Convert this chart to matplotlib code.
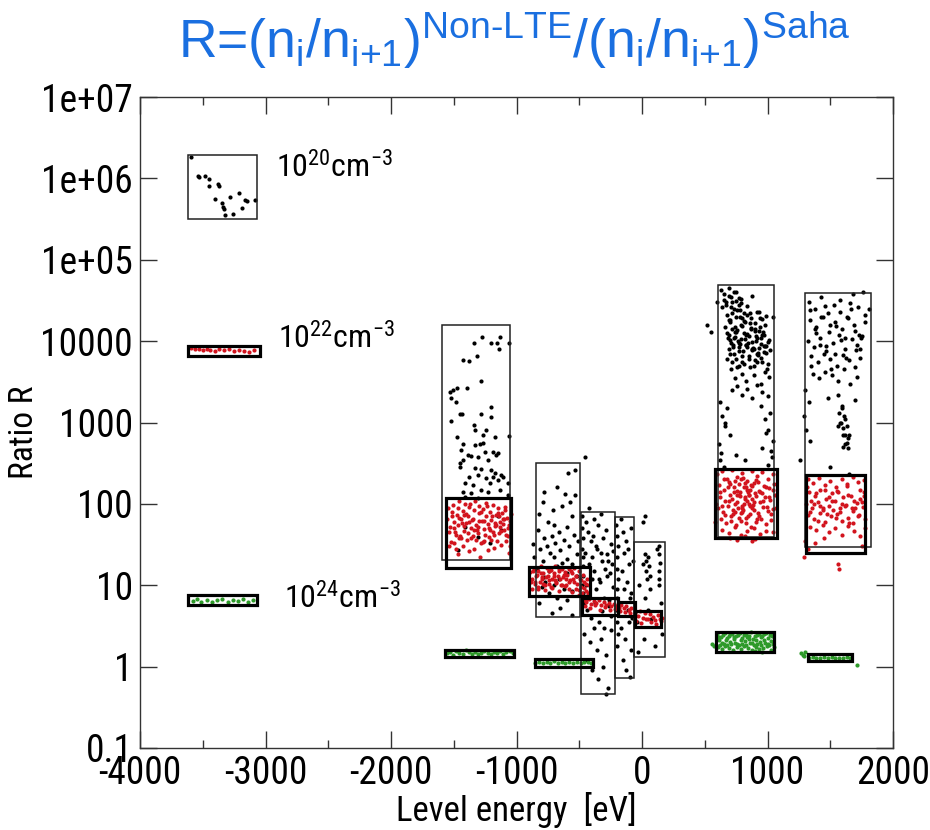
import matplotlib
matplotlib.use('Agg')
import matplotlib.pyplot as plt
from matplotlib import font_manager as fm
from matplotlib.patches import Rectangle
from matplotlib.ticker import MultipleLocator, NullLocator

plt.rcParams['font.family'] = ['Liberation Sans', 'DejaVu Sans']
plt.rcParams['mathtext.fontset'] = 'custom'
plt.rcParams['mathtext.rm'] = 'Liberation Sans'
plt.rcParams['mathtext.default'] = 'regular'

# look for a narrow sans face for the axis texts (the original uses one)
narrow_path = None
prefer = ['liberation sans narrow', 'roboto condensed', 'open sans condensed', 'dejavu sans']
found = {}
for f in fm.fontManager.ttflist:
    nm = f.name.lower()
    if f.style != 'normal' or f.weight not in (400, 'normal', 'regular', 'book'):
        continue
    if f.stretch in ('condensed', 'semi-condensed') or 'narrow' in nm or 'condensed' in nm:
        found.setdefault(nm, f.fname)
for p in prefer:
    if p in found:
        narrow_path = found[p]
        break
if narrow_path is None and found:
    narrow_path = sorted(found.items())[0][1]

# ---- data (level energy in eV, ratio R) ----
# 1e20 cm^-3, black
b20_E = [-3595, -3541, -3533, -3480, -3453, -3453, -3381, -3368, -3400, -3347,
         -3339, -3333, -3285, -3211, -3160, -3147, -3187, -3320, -3259, -3080]
b20_R = [1.84e6, 1.06e6, 1.03e6, 1.06e6, 9.7e5, 8.1e5, 8.5e5, 8.1e5, 5.6e5, 5.0e5,
         4.4e5, 4.2e5, 5.9e5, 6.7e5, 5.5e5, 5.3e5, 4.3e5, 3.5e5, 3.6e5, 5.4e5]

# 1e22 cm^-3, red
r22_E = [-3590, -3560, -3530, -3500, -3470, -3440, -3400, -3370, -3330, -3290,
         -3250, -3210, -3170, -3130, -3090]
r22_R = [8200, 7900, 8100, 7700, 8000, 7800, 7600, 8000, 7700, 7900,
         7500, 7800, 7600, 7400, 7700]

# 1e24 cm^-3, green
g24_E = [-3580, -3545, -3510, -3470, -3430, -3390, -3350, -3300, -3260, -3220,
         -3180, -3140, -3100]
g24_R = [6.4, 6.7, 6.3, 6.6, 6.2, 6.5, 6.8, 6.3, 6.6, 6.4, 6.7, 6.3, 6.5]

# group near -1300 eV
blk1_E = [-1341, -1275, -1200, -1155, -1133, -1139, -1061, -1427, -1379, -1315,
          -1285, -1533, -1507, -1472, -1395, -1520, -1480, -1453, -1435, -1520,
          -1285, -1200, -1200, -1341, -1328, -1240, -1472, -1267, -1173, -1061,
          -1427, -1333, -1293, -1267, -1440, -1387, -1360, -1253, -1187, -1147,
          -1453, -1427, -1307, -1227, -1160, -1448, -1333, -1280, -1200, -1173,
          -1120, -1381, -1307, -1240, -1187, -1147, -1107, -1413, -1347, -1213,
          -1067, -1427, -1360, -1280, -1227, -1133, -1067, -1413, -1307,
          -1413, -1307, -1147, -1213, -1467, -1120]
blk1_R = [9600, 11300, 9500, 9600, 11300, 8100, 9500, 5800, 5700, 6600,
          3260, 2390, 2500, 2620, 2670, 1980, 1800, 1290, 1290, 1050,
          1290, 1530, 1180, 930, 810, 820, 670, 700, 670, 690,
          550, 530, 550, 560, 460, 400, 390, 440, 440, 420,
          315, 345, 380, 345, 400, 286, 273, 265, 260, 237,
          226, 216, 226, 206, 216, 196, 216, 179, 170, 179,
          179, 141, 135, 148, 141, 148, 128, 122, 117,
          52, 39, 70, 33, 27, 48]

red1_E = [-1545, -1530, -1520, -1505, -1495, -1485, -1480, -1475, -1465, -1455,
          -1445, -1440, -1430, -1420, -1410, -1400, -1395, -1385, -1375, -1365,
          -1355, -1350, -1340, -1330, -1320, -1310, -1300, -1295, -1285, -1275,
          -1265, -1255, -1245, -1240, -1230, -1220, -1210, -1200, -1190, -1185,
          -1175, -1165, -1155, -1145, -1135, -1125, -1115, -1105, -1095, -1085,
          -1075, -1065, -1055, -1050,
          -1535, -1512, -1490, -1470, -1450, -1425, -1405, -1380, -1360, -1335,
          -1315, -1290, -1270, -1250, -1225, -1205, -1180, -1160, -1140, -1120,
          -1100, -1080, -1060]
red1_R = [88, 52, 34, 96, 60, 42, 28, 74, 55, 108,
          38, 66, 82, 47, 100, 58, 36, 71, 92, 50,
          63, 40, 85, 110, 55, 44, 77, 95, 33, 61,
          86, 49, 70, 103, 57, 39, 80, 64, 45, 98,
          53, 72, 35, 88, 60, 46, 78, 56, 92, 41,
          68, 50, 30, 62,
          30, 70, 45, 24, 40, 30, 75, 26, 38, 28,
          48, 22, 34, 42, 27, 36, 29, 55, 44, 31,
          65, 35, 25]
red1b_E = [-1550, -1515, -1500, -1470, -1460, -1435, -1415, -1390, -1370, -1345,
           -1325, -1305, -1280, -1260, -1235, -1215, -1195, -1170, -1150, -1130,
           -1110, -1090, -1070, -1045,
           -1540, -1500, -1460, -1420, -1380, -1340, -1300, -1260, -1220, -1180,
           -1140, -1100, -1060]
red1b_R = [65, 80, 50, 90, 38, 58, 72, 44, 100, 66,
           36, 52, 80, 62, 94, 48, 70, 58, 78, 52,
           66, 84, 40, 76,
           45, 33, 68, 54, 60, 48, 62, 35, 50, 42,
           70, 48, 55]

grn1_E = [-1555, -1530, -1505, -1480, -1455, -1430, -1405, -1380, -1355, -1330,
          -1305, -1280, -1255, -1230, -1205, -1180, -1155, -1130, -1105, -1080,
          -1055, -1030]
grn1_R = [1.45, 1.52, 1.40, 1.55, 1.47, 1.42, 1.58, 1.50, 1.44, 1.53,
          1.41, 1.49, 1.56, 1.46, 1.43, 1.51, 1.48, 1.54, 1.42, 1.50,
          1.57, 1.45]

# group between -900 and 200 eV
blk2_E = [-533, -587, -779, -613, -533, -787, -707, -573, -680, -820,
          -640, -750, -560, -700, -830, -600, -660, -720, -780, -540,
          -620, -690, -760, -810, -580, -650, -730, -520, -700, -600,
          -790, -640, -560, -680, -840, -740, -600, -520, -660, -770,
          -700, -620, -800, -560, -740, -680, -600, -820, -650, -720,
          -560, -780, -510, -860, -870]
blk2_R = [260, 237, 141, 134, 128, 106, 84, 106, 160, 75,
          95, 60, 70, 55, 48, 52, 45, 40, 38, 42,
          36, 33, 30, 28, 30, 27, 25, 24, 22, 21,
          20, 19, 18, 17, 16, 15, 14, 13, 12, 11,
          10, 9, 9.5, 8.5, 8, 7, 6.5, 6, 5.2, 4.6,
          4.3, 12.5, 35, 22, 32]

red2_E = [-890, -875, -860, -850, -840, -828, -815, -805, -795, -785,
          -772, -760, -750, -740, -728, -715, -705, -695, -685, -672,
          -660, -650, -640, -628, -615, -605, -595, -585, -572, -560,
          -550, -540, -528, -515, -505, -495, -485, -472, -460, -450,
          -440, -430, -420,
          -880, -855, -830, -800, -775, -745, -720, -690, -665, -635,
          -610, -580, -555, -525, -500, -475, -455, -435]
red2_R = [14.5, 12, 16, 10.5, 13.5, 15, 11, 17, 12.5, 14,
          10, 16.5, 13, 11.5, 15.5, 12, 14, 17, 10.8, 13,
          15, 11.8, 16, 12.5, 14.5, 10.2, 13.5, 15.8, 11.5, 14,
          12, 16.5, 13, 10.5, 15, 12, 9.5, 13.5, 11, 8.5,
          12, 7.8, 10,
          9, 11, 9.5, 12, 8.8, 10.5, 9.2, 11.5, 8.5, 10,
          9.8, 11, 8.2, 9, 7.5, 8, 7, 6.8]
red2b_E = [-885, -865, -845, -825, -805, -785, -765, -745, -725, -705,
           -685, -665, -645, -625, -605, -585, -565, -545, -525, -505,
           -485, -465, -445, -425]
red2b_R = [11, 15, 13, 9, 14, 10.5, 12.5, 15, 9.5, 13,
           11, 16, 10, 13.5, 12, 9, 15, 11, 13, 8.8,
           11.5, 9.2, 10.5, 8]

grn2_E = [-850, -820, -790, -760, -730, -700, -670, -640, -610, -580,
          -550, -520, -490, -460, -430, -405]
grn2_R = [1.12, 1.15, 1.10, 1.14, 1.11, 1.16, 1.12, 1.13, 1.10, 1.15,
          1.12, 1.14, 1.11, 1.13, 1.15, 1.12]

blk3_E = [-475, -478, -472, -476, -470, -474, -468, -477, -471, -465,
          -450, -430, -410, -390, -370, -350, -330, -310, -290, -270, -250, -235,
          -455, -425, -400, -380, -360, -340, -315, -295, -275, -255, -240,
          -445, -420, -395, -365, -335, -305, -280, -260, -230,
          -440, -405, -375, -345, -320, -300, -265, -245,
          -460, -415, -385, -355, -325, -285, -250,
          -435, -395, -350, -310, -270, -453, -420, -330, -380, -290]
blk3_R = [70, 50, 38, 28, 22, 17, 13, 10, 8, 6,
          60, 45, 35, 40, 30, 55, 25, 38, 48, 20, 32, 26,
          25, 18, 22, 15, 28, 12, 20, 16, 24, 14, 18,
          10, 8, 12, 9, 11, 7, 13, 6.5, 9.5,
          5, 4, 6, 3.5, 4.8, 3, 5.5, 4.2,
          2.5, 2, 3, 1.6, 2.2, 1.4, 2.8,
          1.2, 0.9, 0.7, 1.0, 0.55, 380, 90, 75, 65, 0.46]

red3_E = [-465, -445, -425, -405, -385, -365, -345, -325, -305, -285,
          -265, -245, -225, -205, -185, -165, -145, -125, -105, -85,
          -455, -415, -375, -335, -295, -255, -215, -175, -135, -95]
red3_R = [6.6, 6.2, 6.8, 5.9, 6.4, 6.0, 6.5, 5.7, 6.2, 5.8,
          6.0, 5.5, 5.9, 5.6, 5.3, 5.7, 5.2, 5.5, 5.0, 5.3,
          5.6, 5.2, 5.8, 5.0, 5.4, 4.9, 5.1, 4.8, 4.7, 4.6]

blk4_E = [-205, -200, -195, -203, -198, -193, -201, -196, -204, -199, -194, -202,
          -170, -150, -130, -110, -90, -75, -160, -140, -120, -100, -85,
          -175, -145, -115, -95, -80, -165, -135, -105, -88, -155, -125, -92]
blk4_R = [55, 40, 30, 22, 16, 12, 9, 7, 5, 3.5, 2.5, 1.8,
          65, 45, 35, 28, 50, 20, 15, 25, 11, 18, 8,
          6, 9, 5, 7, 4, 3, 2.2, 3.5, 1.6, 1.2, 0.9, 0.75]

blk5_E = [-40, -20, 5, 25, 30, 35, 40, 50, 55, 60,
          65, 120, 135, 138, 140, 137, 139, 136, 150, 160,
          25, 45, 70, 15, 100, -30, 10, 27]
blk5_R = [3.5, 10, 18, 24, 20, 15, 12, 22, 17, 13,
          9, 28, 30, 24, 19, 15, 12, 10, 6, 2.5,
          7, 5, 3.8, 2.2, 1.8, 1.5, 60, 70]

red5_E = [-55, -35, -15, 5, 25, 45, 65, 85, 105, 125, 145, 160,
          -45, -5, 35, 75, 115, 150]
red5_R = [4.6, 4.2, 4.8, 4.0, 4.5, 3.9, 4.4, 4.1, 3.7, 4.3, 3.8, 4.0,
          3.6, 3.4, 3.8, 3.5, 3.3, 3.6]

# group near 800 eV
blkA_E = [630, 650, 670, 690, 710, 730, 750, 770, 790, 810,
          640, 680, 720, 760, 800, 840, 880, 920,
          700, 740, 780, 820, 860, 900, 940, 980,
          690, 710, 730, 750, 770, 790, 810, 830, 850, 870, 890, 910, 930, 950, 970, 990, 1010,
          700, 725, 750, 775, 800, 825, 850, 875, 900, 925, 950, 975, 1000, 1020,
          710, 740, 770, 800, 830, 860, 890, 920, 950, 980, 1010,
          720, 760, 800, 840, 880, 920, 960, 1000,
          620, 640, 660, 680, 700,
          950, 980, 1000, 1020, 1040,
          610, 630, 660, 960, 990, 1030,
          620, 650, 1000, 1035,
          600, 550, 520, 1045, 750, 820]
blkA_R = [42000, 38000, 30000, 45000, 35000, 25000, 40000, 28000, 33000, 22000,
          26000, 21000, 30000, 24000, 19000, 27000, 36000, 23000,
          18000, 15000, 20000, 17000, 22000, 14000, 19000, 16000,
          12000, 9500, 11000, 13000, 8500, 10500, 12500, 9000, 11500, 14000, 8000, 10000,
          13500, 9200, 11800, 8800, 10200,
          7000, 8500, 6000, 7500, 5500, 9000, 6500, 8000, 5800, 7200, 6200, 8800, 5200, 7800,
          4500, 3500, 5000, 4000, 3200, 4800, 3800, 5500, 3000, 4200, 3600,
          2500, 2800, 2200, 2600, 2000, 2900, 2400, 2100,
          1800, 1200, 900, 1500, 700,
          1600, 1100, 800, 1300, 600,
          550, 420, 1000, 480, 750, 450,
          350, 280, 300, 380,
          30000, 13000, 16000, 20000, 400, 350]
blkA2_E = [665, 685, 705, 725, 745, 765, 785, 805, 825, 845, 865, 885, 905, 925, 945, 965, 985, 1005,
           675, 695, 715, 735, 755, 775, 795, 815, 835, 855, 875, 895, 915, 935, 955, 975, 995,
           680, 700, 720, 740, 760, 780, 800, 820, 840, 860, 880, 900, 920, 940, 960, 980,
           690, 720, 750, 780, 810, 840, 870, 900, 930, 960, 990,
           650, 670, 690, 710, 730, 750, 770, 790]
blkA2_R = [15000, 11000, 17000, 9000, 13000, 10000, 16000, 7500, 12000, 9500,
           14500, 8200, 11500, 6800, 10800, 12800, 7200, 9800,
           6000, 8000, 5500, 7000, 4800, 9500, 6500, 5200, 8400, 6100,
           7700, 5000, 6900, 8300, 5600, 7400, 4600,
           12500, 10200, 14200, 11200, 13800, 9200, 15500, 10500, 12200, 16500,
           9700, 13200, 10900, 14800, 11900, 8600,
           18000, 22000, 20000, 24000, 17500, 21000, 19500, 16500, 23000, 18500, 20500,
           32000, 28000, 36000, 26000, 40000, 31000, 34000, 29000]

redA_E = [600, 640, 680, 720, 760, 800, 840, 880, 920, 960, 1000, 1040,
          610, 650, 690, 730, 770, 810, 850, 890, 930, 970, 1010, 1050,
          620, 660, 700, 740, 780, 820, 860, 900, 940, 980, 1020, 1060,
          605, 645, 685, 725, 765, 805, 845, 885, 925, 965, 1005, 1045,
          630, 670, 710, 750, 790, 830, 870, 910, 950, 990, 1030,
          640, 690, 740, 790, 840, 890, 940, 990, 1040,
          580, 590, 700, 760, 820, 880, 900, 1070,
          760, 780, 800, 820, 840, 860, 880, 800, 830, 850]
redA_R = [230, 250, 200, 260, 215, 240, 190, 255, 220, 245, 205, 235,
          170, 150, 185, 140, 175, 160, 130, 180, 145, 165, 155, 175,
          120, 110, 130, 100, 125, 115, 95, 135, 105, 120, 112, 128,
          88, 80, 95, 75, 90, 85, 70, 98, 78, 92, 82, 86,
          65, 58, 70, 55, 62, 68, 52, 60, 66, 57, 63,
          48, 44, 52, 42, 46, 50, 43, 47, 45,
          60, 100, 38, 36, 40, 35, 37, 90,
          105, 140, 95, 120, 108, 150, 115, 80, 160, 100]
redA2_E = [625, 655, 685, 715, 745, 775, 805, 835, 865, 895, 925, 955, 985, 1015, 1045,
           635, 665, 695, 725, 755, 785, 815, 845, 875, 905, 935, 965, 995, 1025,
           700, 730, 760, 790, 820, 850, 880, 910, 940,
           710, 740, 770, 800, 830, 860, 890, 920]
redA2_R = [140, 200, 160, 115, 190, 130, 210, 150, 170, 105, 185, 135, 160, 120, 150,
           95, 72, 110, 85, 130, 78, 100, 140, 88, 125, 70, 108, 92, 75,
           175, 160, 145, 200, 180, 130, 165, 195, 140,
           62, 80, 68, 90, 58, 75, 85, 65]

grnA_E = [600, 630, 660, 690, 720, 750, 780, 810, 840, 870, 900, 930, 960, 990, 1020, 1045,
          610, 640, 670, 700, 730, 760, 790, 820, 850, 880, 910, 940, 970, 1000, 1030,
          605, 635, 665, 695, 725, 755, 785, 815, 845, 875, 905, 935, 965, 995, 1025, 1050,
          560, 575, 590, 900, 960]
grnA_R = [2.5, 2.3, 2.6, 2.4, 2.55, 2.35, 2.6, 2.45, 2.3, 2.65, 2.4, 2.5, 2.35, 2.6, 2.45, 2.5,
          2.1, 1.95, 2.15, 2.0, 2.2, 1.9, 2.1, 2.05, 2.2, 1.95, 2.1, 2.0, 2.15, 1.9, 2.05,
          1.75, 1.65, 1.8, 1.7, 1.6, 1.75, 1.65, 1.8, 1.7, 1.6, 1.75, 1.65, 1.7, 1.8, 1.62, 1.72,
          1.9, 1.8, 1.85, 1.55, 1.52]
grnA2_E = [615, 645, 675, 705, 735, 765, 795, 825, 855, 885, 915, 945, 975, 1005, 1035,
           620, 650, 680, 710, 740, 770, 800, 830, 860, 890, 920, 950, 980, 1010, 1040]
grnA2_R = [2.28, 2.42, 2.22, 2.5, 2.3, 2.45, 2.25, 2.55, 2.35, 2.2, 2.48, 2.3, 2.52, 2.25, 2.4,
           1.85, 1.92, 1.82, 1.88, 1.95, 1.84, 1.9, 1.86, 1.93, 1.83, 1.89, 1.87, 1.94, 1.85, 1.9]

# group near 1500 eV
blkB_E = [1330, 1380, 1430, 1480, 1530, 1580, 1630, 1680, 1720, 1760,
          1340, 1390, 1440, 1490, 1540, 1590, 1640, 1690, 1730, 1780,
          1320, 1370, 1420, 1470, 1520, 1570, 1620, 1670, 1710, 1750,
          1350, 1400, 1450, 1500, 1550, 1600, 1650, 1700, 1740,
          1360, 1410, 1460, 1510, 1560, 1610, 1660, 1710,
          1300, 1330, 1560, 1590, 1610, 1630, 1650, 1700,
          1290, 1310, 1340, 1580, 1600, 1620, 1640, 1480,
          1500, 1650, 1260, 1810]
blkB_R = [30000, 25000, 35000, 22000, 28000, 32000, 20000, 38000, 26000, 40000,
          18000, 15000, 20000, 13000, 17000, 14000, 19000, 16000, 12000, 21000,
          10000, 8500, 11000, 7500, 9500, 12000, 8000, 10500, 9000, 11500,
          6500, 5500, 7000, 6000, 5000, 6800, 5800, 4800, 6200,
          4000, 3500, 4200, 3800, 3200, 4500, 3000, 3600,
          2500, 1800, 2200, 1500, 1200, 900, 700, 1900,
          1200, 800, 600, 1000, 700, 550, 480, 2000,
          280, 230, 350, 25000]
blkB2_E = [1335, 1375, 1415, 1455, 1495, 1535, 1575, 1615, 1655, 1695, 1735, 1775,
           1345, 1385, 1425, 1465, 1505, 1545, 1585, 1625, 1665, 1705, 1745,
           1570, 1585, 1600, 1615, 1630, 1595, 1620, 1645, 1560, 1605]
blkB2_R = [24000, 14000, 9000, 27000, 16000, 7000, 23000, 11000, 29000, 13500, 8000, 17000,
           5000, 12500, 20000, 8800, 4500, 15500, 10200, 6200, 24500, 7800, 11000,
           1300, 1000, 850, 700, 560, 1600, 1100, 650, 900, 500]

redB_E = [1320, 1365, 1410, 1455, 1500, 1545, 1590, 1635, 1680, 1725, 1765,
          1330, 1375, 1420, 1465, 1510, 1555, 1600, 1645, 1690, 1735, 1770,
          1310, 1355, 1400, 1445, 1490, 1535, 1580, 1625, 1670, 1715, 1760,
          1325, 1370, 1415, 1460, 1505, 1550, 1595, 1640, 1685, 1730, 1775,
          1340, 1390, 1440, 1490, 1540, 1590, 1640, 1690, 1740, 1780,
          1300, 1320, 1290, 1560, 1570, 1750, 1380, 1450]
redB_R = [200, 180, 210, 170, 190, 160, 205, 175, 215, 185, 195,
          140, 125, 150, 115, 135, 145, 120, 130, 110, 150, 125,
          100, 90, 105, 85, 95, 110, 80, 98, 88, 102, 92,
          72, 65, 78, 60, 70, 75, 62, 68, 58, 74, 66,
          52, 48, 55, 45, 50, 42, 53, 46, 40, 50,
          35, 28, 22, 18, 16, 30, 33, 38]
redB2_E = [1315, 1350, 1385, 1420, 1455, 1490, 1525, 1560, 1595, 1630, 1665, 1700, 1735, 1770,
           1335, 1370, 1405, 1440, 1475, 1510, 1545, 1580, 1615, 1650, 1685, 1720, 1755]
redB2_R = [160, 110, 135, 95, 150, 120, 85, 140, 100, 165, 125, 90, 115, 140,
           80, 100, 62, 90, 75, 110, 68, 88, 95, 58, 82, 70, 105]

grnB_E = [1330, 1360, 1390, 1420, 1450, 1480, 1510, 1540, 1570, 1600, 1630, 1660,
          1270, 1285, 1300, 1290, 1710]
grnB_R = [1.28, 1.30, 1.27, 1.29, 1.31, 1.28, 1.30, 1.27, 1.29, 1.28, 1.30, 1.29,
          1.45, 1.40, 1.50, 1.35, 1.05]

# boxes: (E_min, E_max, R_min, R_max)
thin_boxes = [(-3616, -3064, 3.2e5, 1.93e6),
              (-1592, -1048, 20.4, 15700),
              (-848, -496, 4.06, 318),
              (-488, -216, 0.46, 79),
              (-216, -64, 0.72, 69),
              (-64, 184, 1.31, 33.8),
              (608, 1048, 39, 49000),
              (1296, 1824, 29.5, 39000)]
thick_boxes = [(-3616, -3040, 6500, 8700),
               (-3616, -3064, 5.7, 7.6),
               (-1560, -1040, 16.3, 117),
               (-1568, -1016, 1.32, 1.62),
               (-904, -416, 7.4, 16.7),
               (-856, -392, 1.0, 1.24),
               (-480, -190, 4.3, 6.9),
               (-190, -53, 4.2, 6.3),
               (-53, 155, 3.04, 4.8),
               (584, 1072, 38, 270),
               (592, 1048, 1.51, 2.66),
               (1304, 1776, 24.9, 226),
               (1320, 1672, 1.17, 1.43)]

density_labels = [r'10$^{20}$cm$^{-3}$', r'10$^{22}$cm$^{-3}$', r'10$^{24}$cm$^{-3}$']
label_pos = [(-2920, 1.03e6), (-2904, 8200), (-2856, 5.25)]

yticks = [0.1, 1, 10, 100, 1000, 10000, 1e5, 1e6, 1e7]
ytick_labels = ['0.1', '1', '10', '100', '1000', '10000', '1e+05', '1e+06', '1e+07']
xticks = [-4000, -3000, -2000, -1000, 0, 1000, 2000]

BLACK = '#000000'
RED = '#d2141e'
GREEN = '#2e9a2a'

if narrow_path:
    def axfont(size):
        return fm.FontProperties(fname=narrow_path, size=size)
    tick_size, lab_size, ylab_size, dens_size = 27, 25, 24, 23
else:
    def axfont(size):
        return fm.FontProperties(family='Liberation Sans', size=size)
    tick_size, lab_size, ylab_size, dens_size = 22, 21, 19, 19

fig = plt.figure(figsize=(9.3, 8.3), dpi=100)
ax = fig.add_axes([140 / 930, 1 - 748 / 830, (893 - 140) / 930, (748 - 97) / 830])
ax.set_yscale('log')

dot = dict(s=9, linewidths=0)
for E, R in [(b20_E, b20_R), (blk1_E, blk1_R), (blk2_E, blk2_R), (blk3_E, blk3_R),
             (blk4_E, blk4_R), (blk5_E, blk5_R), (blkA_E, blkA_R), (blkA2_E, blkA2_R),
             (blkB_E, blkB_R), (blkB2_E, blkB2_R)]:
    ax.scatter(E, R, color=BLACK, zorder=2, **dot)
for E, R in [(r22_E, r22_R), (red1_E, red1_R), (red1b_E, red1b_R), (red2_E, red2_R),
             (red2b_E, red2b_R), (red3_E, red3_R), (red5_E, red5_R), (redA_E, redA_R),
             (redA2_E, redA2_R), (redB_E, redB_R), (redB2_E, redB2_R)]:
    ax.scatter(E, R, color=RED, zorder=3, **dot)
for E, R in [(g24_E, g24_R), (grn1_E, grn1_R), (grn2_E, grn2_R),
             (grnA_E, grnA_R), (grnA2_E, grnA2_R), (grnB_E, grnB_R)]:
    ax.scatter(E, R, color=GREEN, zorder=3, **dot)

for x0, x1, y0, y1 in thin_boxes:
    ax.add_patch(Rectangle((x0, y0), x1 - x0, y1 - y0, fill=False,
                           edgecolor='#222222', lw=1.1, zorder=4))
for x0, x1, y0, y1 in thick_boxes:
    ax.add_patch(Rectangle((x0, y0), x1 - x0, y1 - y0, fill=False,
                           edgecolor='black', lw=2.3, zorder=5))

for txt, (x, y) in zip(density_labels, label_pos):
    ax.text(x, y, txt, fontproperties=axfont(dens_size), va='baseline', ha='left')

ax.set_xlim(-4000, 2000)
ax.set_ylim(0.1, 1e7)
ax.set_xticks(xticks)
ax.set_xticklabels([str(v) for v in xticks])
ax.xaxis.set_minor_locator(MultipleLocator(500))
ax.set_yticks(yticks)
ax.set_yticklabels(ytick_labels)
ax.yaxis.set_minor_locator(NullLocator())
ax.tick_params(which='both', direction='in', top=True, right=True, width=1.0, color='#333333')
ax.tick_params(which='major', length=12, pad=5)
ax.tick_params(which='minor', length=6)
for lbl in ax.get_xticklabels() + ax.get_yticklabels():
    lbl.set_fontproperties(axfont(tick_size))
for sp in ax.spines.values():
    sp.set_linewidth(1.0)
    sp.set_color('#333333')

ax.set_xlabel('Level energy  [eV]', fontproperties=axfont(lab_size), labelpad=0)
ax.set_ylabel('Ratio R', fontproperties=axfont(ylab_size))
ax.yaxis.set_label_coords(-0.133, 0.485)

fig.text(514 / 930, 1 - 58 / 830,
         r'R=(n$_i$/n$_{\text{i+1}}$)$^{\text{Non-LTE}}$/(n$_i$/n$_{\text{i+1}}$)$^{\text{Saha}}$',
         family='Liberation Sans', fontsize=38.5, color='#1a6fe0', ha='center', va='baseline')

fig.savefig('out.png', dpi=100)
